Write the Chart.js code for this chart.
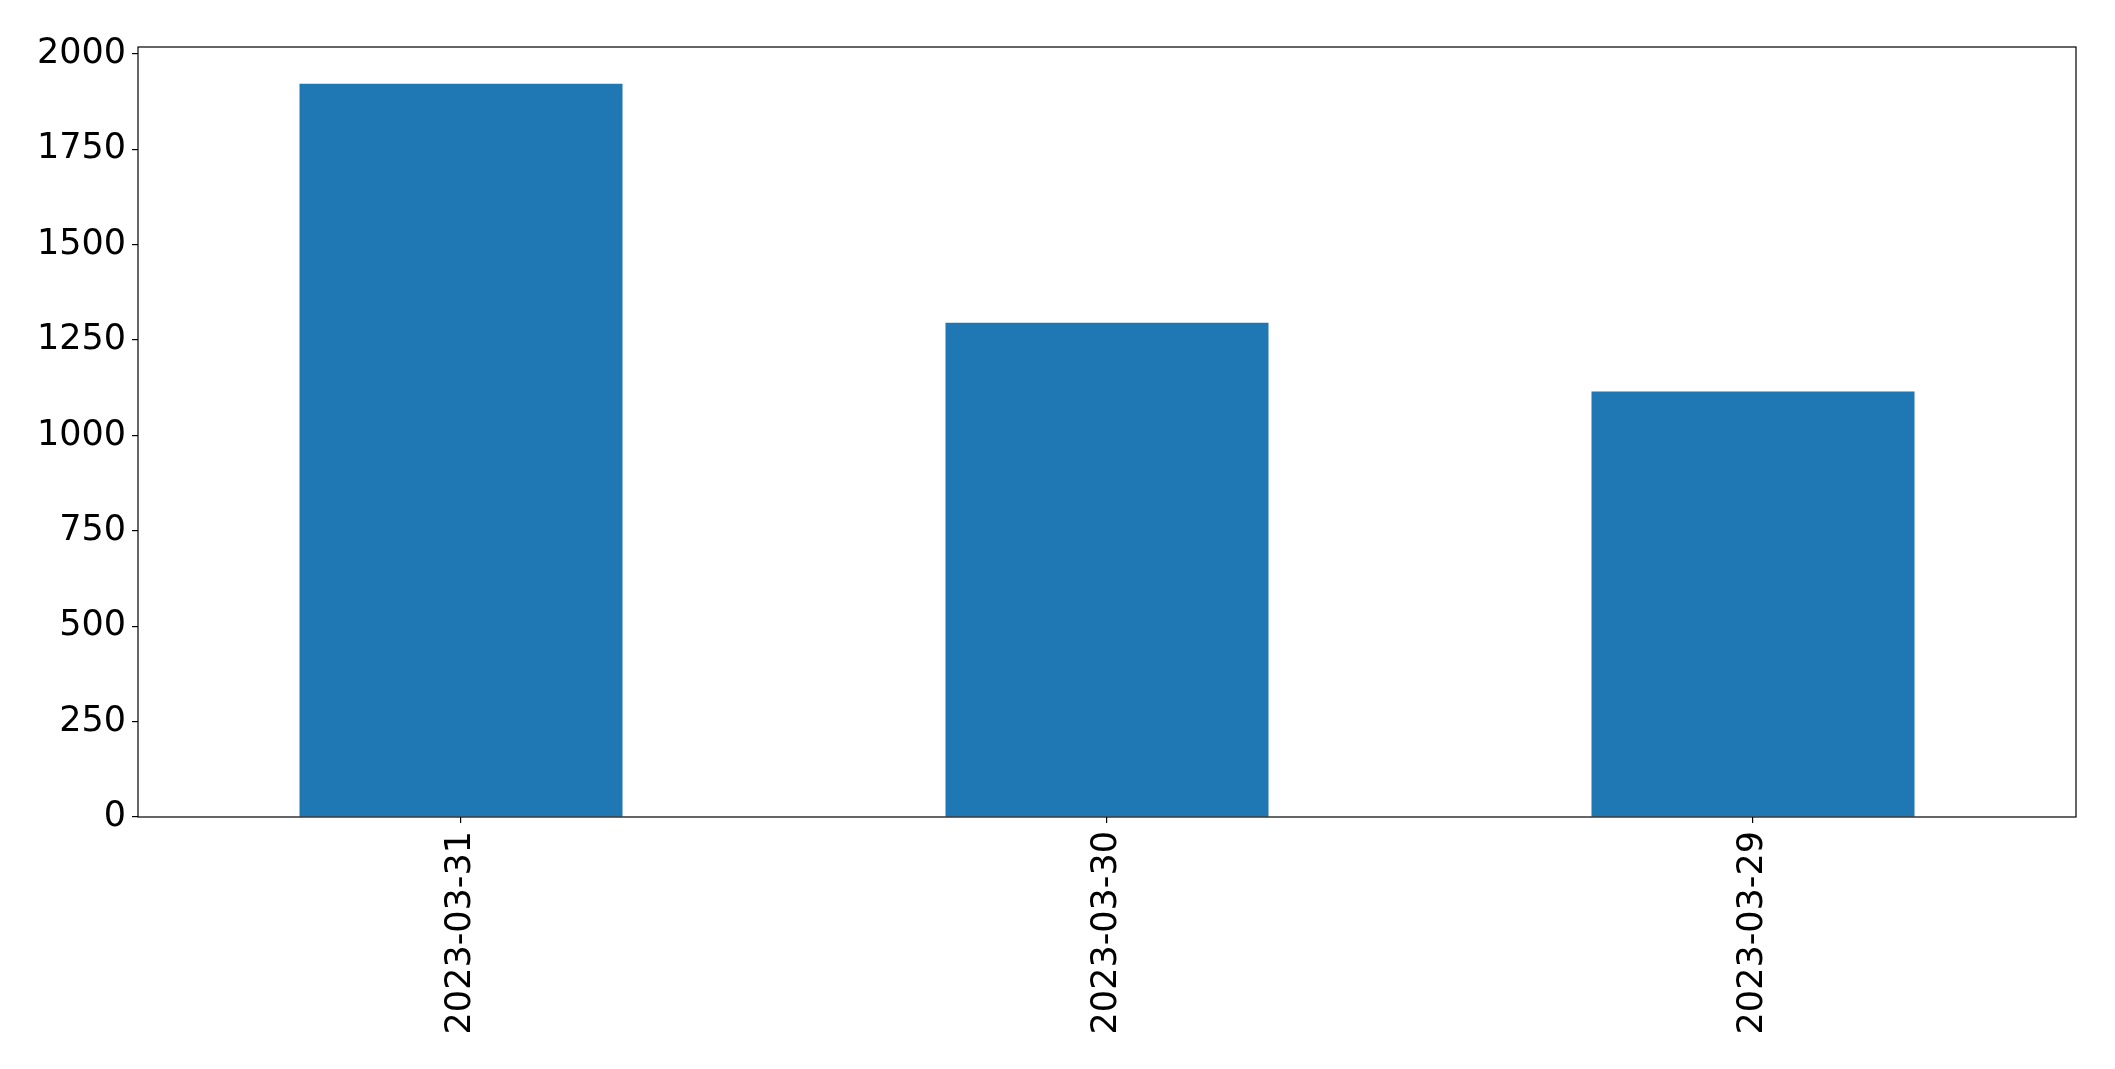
<!DOCTYPE html>
<html>
<head>
<meta charset="utf-8">
<script src="https://cdn.jsdelivr.net/npm/chart.js@4.4.0/dist/chart.umd.min.js"></script>
<style>
    body { margin: 0; background: #fff; }
    #wrap { width: 2115px; height: 1069px; }
</style>
</head>
<body>
<div id="wrap"><canvas id="barChart" width="2115" height="1069"></canvas></div>
<script>
// datos
const dates = ['2023-03-31', '2023-03-30', '2023-03-29'];
const counts = [1922, 1295, 1115];
const yTicks = [0, 250, 500, 750, 1000, 1250, 1500, 1750, 2000];

const font = { family: 'DejaVu Sans', size: 35 };

// marco completo alrededor del área del gráfico
const frameBox = {
    id: 'frameBox',
    afterDraw(chart) {
        const a = chart.chartArea;
        const ctx = chart.ctx;
        ctx.save();
        ctx.strokeStyle = '#000';
        ctx.lineWidth = 1.2;
        ctx.strokeRect(a.left, a.top, a.right - a.left, a.bottom - a.top);
        ctx.restore();
    }
};

const ctx = document.getElementById('barChart').getContext('2d');
const barChart = new Chart(ctx, {
    type: 'bar',
    data: {
        labels: dates,
        datasets: [{
            data: counts,
            backgroundColor: '#1f77b4',
            borderWidth: 0,
            categoryPercentage: 1.0,
            barPercentage: 0.5
        }]
    },
    options: {
        responsive: false,
        devicePixelRatio: 1,
        animation: false,
        layout: { padding: { top: 47, right: 39, left: 0, bottom: 0 } },
        plugins: { legend: { display: false }, tooltip: { enabled: false } },
        scales: {
            x: {
                offset: true,
                grid: { display: true, drawOnChartArea: false, drawTicks: true, tickLength: 6, offset: false, color: '#000', lineWidth: 1.2 },
                border: { display: false },
                ticks: { color: '#000', font: font, minRotation: 90, maxRotation: 90, padding: 8 },
                afterFit(scale) { scale.height = 252; }
            },
            y: {
                min: 0,
                max: 2018,
                grid: { display: true, drawOnChartArea: false, drawTicks: true, tickLength: 6, color: '#000', lineWidth: 1.2 },
                border: { display: false },
                ticks: { color: '#000', font: font, padding: 6, callback: v => String(v) },
                afterBuildTicks(scale) { scale.ticks = yTicks.map(v => ({ value: v })); },
                afterFit(scale) { scale.width = 138; }
            }
        }
    },
    plugins: [frameBox]
});
</script>
</body>
</html>
